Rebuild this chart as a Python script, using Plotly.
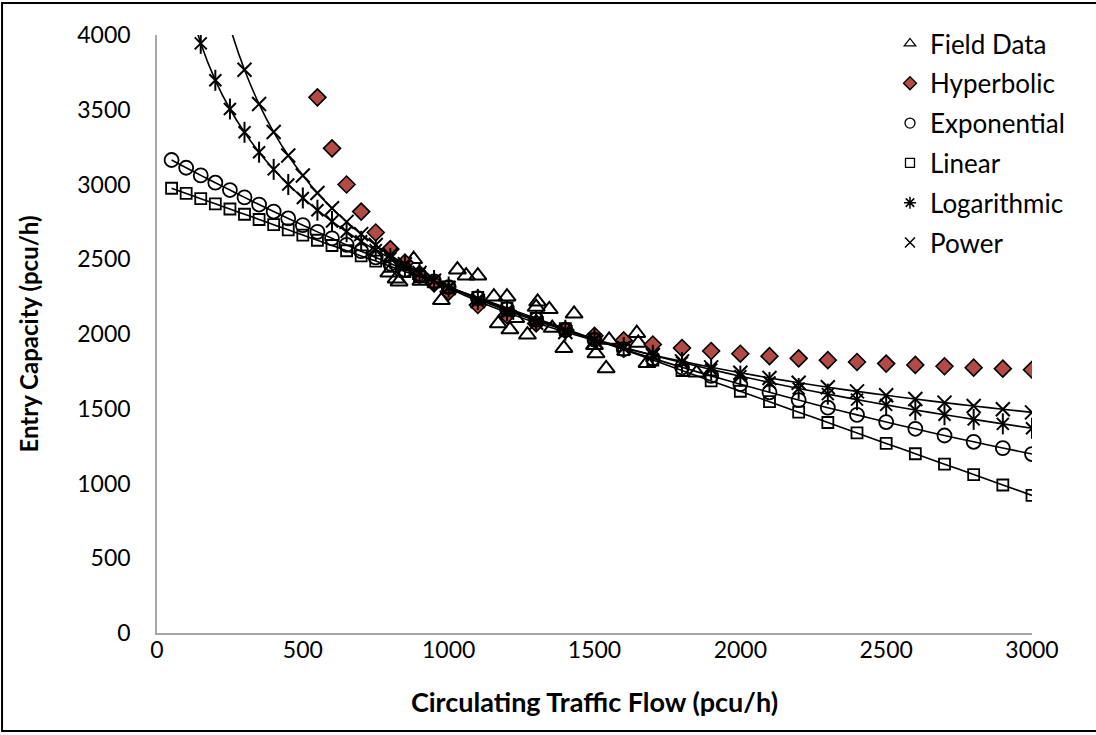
import plotly.graph_objects as go

# Circulating flow values at which each capacity model is evaluated (pcu/h)
model_flow = [50, 100, 150, 200, 250, 300, 350, 400, 450, 500,
              550, 600, 650, 700, 750, 800, 850, 900, 950, 1000,
              1100, 1200, 1300, 1400, 1500, 1600, 1700, 1800, 1900, 2000,
              2100, 2200, 2300, 2400, 2500, 2600, 2700, 2800, 2900, 3000]

exponential_cap = [3164, 3112, 3061, 3012, 2963, 2914, 2866, 2819, 2773, 2728,
                   2683, 2640, 2596, 2554, 2512, 2471, 2431, 2391, 2352, 2314,
                   2239, 2166, 2096, 2028, 1962, 1899, 1837, 1777, 1720, 1664,
                   1610, 1558, 1507, 1459, 1411, 1366, 1321, 1279, 1237, 1197]

linear_cap = [2975, 2940, 2905, 2871, 2836, 2801, 2766, 2731, 2697, 2662,
              2627, 2592, 2557, 2522, 2488, 2453, 2418, 2383, 2348, 2314,
              2244, 2174, 2104, 2035, 1965, 1895, 1826, 1756, 1686, 1617,
              1547, 1477, 1408, 1338, 1268, 1199, 1129, 1060, 990, 920]

logarithmic_cap = [4889, 4293, 3944, 3697, 3505, 3349, 3216, 3101, 3000, 2910,
                   2828, 2753, 2684, 2620, 2561, 2506, 2454, 2404, 2358, 2314,
                   2232, 2157, 2088, 2025, 1965, 1910, 1858, 1809, 1762, 1718,
                   1676, 1636, 1598, 1561, 1526, 1492, 1460, 1429, 1399, 1369]

power_cap = [7806, 5890, 4995, 4444, 4057, 3767, 3538, 3351, 3194, 3060,
             2943, 2841, 2750, 2668, 2595, 2527, 2466, 2409, 2357, 2308,
             2220, 2143, 2075, 2013, 1957, 1906, 1860, 1817, 1777, 1741,
             1706, 1674, 1644, 1616, 1590, 1565, 1541, 1518, 1497, 1476]

# Hyperbolic model (points below 550 pcu/h lie above the axis range)
hyper_flow = [550, 600, 650, 700, 750, 800, 850, 900, 950, 1000,
              1100, 1200, 1300, 1400, 1500, 1600, 1700, 1800, 1900, 2000,
              2100, 2200, 2300, 2400, 2500, 2600, 2700, 2800, 2900, 3000]
hyper_cap = [3583, 3242, 3000, 2819, 2679, 2568, 2477, 2401, 2338, 2283,
             2194, 2126, 2071, 2026, 1988, 1957, 1930, 1906, 1886, 1868,
             1852, 1837, 1825, 1813, 1802, 1793, 1784, 1775, 1768, 1761]

# Observed field data
field_flow = [795, 820, 830, 880, 905, 975, 1030, 1060, 1100, 1155, 1170, 1200, 1210, 1230,
              1270, 1300, 1305, 1345, 1355, 1395, 1430, 1500, 1505, 1540, 1550, 1645,
              1650, 1680, 1850]
field_cap = [2410, 2370, 2350, 2500, 2355, 2225, 2430, 2390, 2390, 2250, 2070, 2250, 2030, 2105,
             1995, 2180, 2215, 2165, 2040, 1905, 2135, 1925, 1870, 1770, 1960, 2005,
             1940, 1805, 1740]

FONT = "Lato"
BLACK = "#000000"
RED = "#B24A48"
LW = 1.6

fig = go.Figure()

def legend_entry(name, symbol, size, fill="rgba(0,0,0,0)", lw=1.3):
    fig.add_trace(go.Scatter(
        x=[None], y=[None], mode="markers", name=name, legendgroup=name,
        marker=dict(symbol=symbol, size=size, color=fill,
                    line=dict(color=BLACK, width=lw)),
    ))

# Field data
fig.add_trace(go.Scatter(
    x=field_flow, y=field_cap, mode="markers", showlegend=False, legendgroup="Field Data",
    marker=dict(symbol="triangle-up-open", size=15, color=BLACK, line=dict(width=2, color=BLACK)),
))

# Hyperbolic
fig.add_trace(go.Scatter(
    x=hyper_flow, y=hyper_cap, mode="markers", showlegend=False, legendgroup="Hyperbolic",
    marker=dict(symbol="diamond", size=13, color=RED, line=dict(width=1.6, color=BLACK)),
))

# Fitted curves drawn as smooth lines
for cap in (exponential_cap, linear_cap, logarithmic_cap, power_cap):
    fig.add_trace(go.Scatter(
        x=model_flow, y=cap, mode="lines", showlegend=False, hoverinfo="skip",
        line=dict(color=BLACK, width=LW, shape="spline", smoothing=0.6),
    ))

fig.add_trace(go.Scatter(
    x=model_flow, y=exponential_cap, mode="markers", showlegend=False, legendgroup="Exponential",
    marker=dict(symbol="circle-open", size=14, color=BLACK, line=dict(width=1.8, color=BLACK)),
))
fig.add_trace(go.Scatter(
    x=model_flow, y=linear_cap, mode="markers", showlegend=False, legendgroup="Linear",
    marker=dict(symbol="square-open", size=11, color=BLACK, line=dict(width=1.8, color=BLACK)),
))
# Six-armed star: a diagonal cross plus a vertical bar
fig.add_trace(go.Scatter(
    x=model_flow, y=logarithmic_cap, mode="markers", showlegend=False, legendgroup="Logarithmic",
    marker=dict(symbol="x-thin-open", size=12, color=BLACK, line=dict(width=2, color=BLACK)),
))
fig.add_trace(go.Scatter(
    x=model_flow, y=logarithmic_cap, mode="markers", showlegend=False, legendgroup="Logarithmic",
    marker=dict(symbol="line-ns-open", size=15, color=BLACK, line=dict(width=2, color=BLACK)),
))
fig.add_trace(go.Scatter(
    x=model_flow, y=power_cap, mode="markers", showlegend=False, legendgroup="Power",
    marker=dict(symbol="x-thin-open", size=14, color=BLACK, line=dict(width=2, color=BLACK)),
))

legend_entry("Field Data", "triangle-up-open", 10, BLACK)
legend_entry("Hyperbolic", "diamond", 10, RED)
legend_entry("Exponential", "circle-open", 10, BLACK)
legend_entry("Linear", "square-open", 9, BLACK)
legend_entry("Logarithmic", "asterisk-open", 10, BLACK, 1.5)
legend_entry("Power", "x-thin-open", 10, BLACK, 1.5)

fig.update_layout(
    width=1096, height=735,
    margin=dict(l=157, r=64, t=35, b=102),
    paper_bgcolor="white", plot_bgcolor="white",
    font=dict(family=FONT, size=22, color=BLACK),
    showlegend=True,
    legend=dict(
        x=0.8377, y=1.025, xanchor="left", yanchor="top",
        bgcolor="rgba(0,0,0,0)", font=dict(family=FONT, size=26, color=BLACK),
        tracegroupgap=3, itemwidth=30,
    ),
    xaxis=dict(
        range=[0, 3000], tickvals=[0, 500, 1000, 1500, 2000, 2500, 3000],
        showgrid=False, zeroline=False, showline=True, linecolor="#A6A6A6", linewidth=1.5,
        ticks="", ticklabelstandoff=-4, tickfont=dict(family=FONT, size=23),
        title=dict(text="<b>Circulating Traffic Flow (pcu/h)</b>", standoff=31,
                   font=dict(family=FONT, size=27)),
    ),
    yaxis=dict(
        range=[0, 4000], tickvals=[0, 500, 1000, 1500, 2000, 2500, 3000, 3500, 4000],
        showgrid=False, zeroline=False, showline=True, linecolor="#A6A6A6", linewidth=1.5,
        ticks="", ticklabelstandoff=20, tickfont=dict(family=FONT, size=23),
        title=dict(text="<b>Entry Capacity (pcu/h)</b>", standoff=32,
                   font=dict(family=FONT, size=24)),
    ),
    # Outer chart frame (left, top and bottom edges)
    shapes=[dict(type="rect", xref="paper", yref="paper",
                 x0=-0.1771, x1=1.2, y0=-0.1639, y1=1.0535,
                 line=dict(color=BLACK, width=2), fillcolor="rgba(0,0,0,0)", layer="below")],
)

fig.write_html("out.html")
